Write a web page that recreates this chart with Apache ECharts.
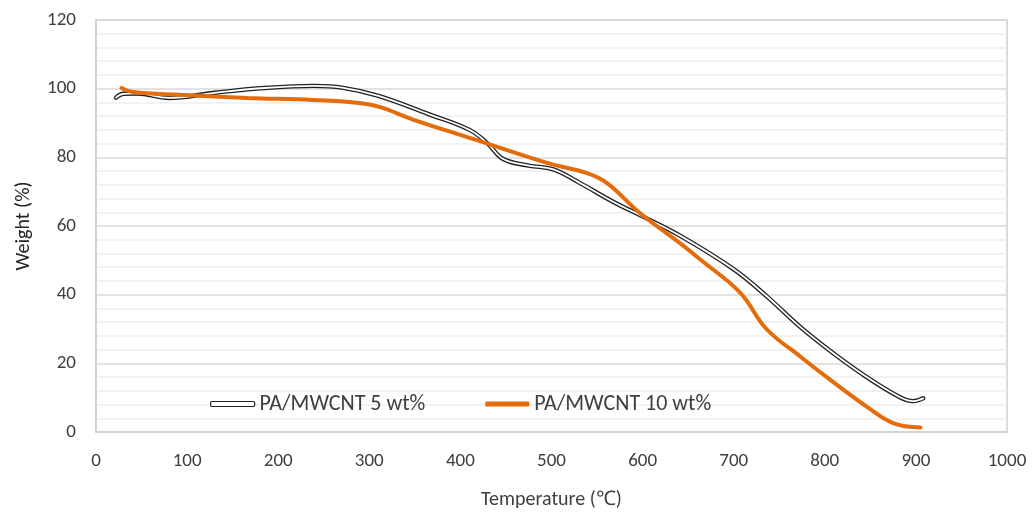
<!DOCTYPE html>
<html>
<head>
<meta charset="utf-8">
<script src="https://cdn.jsdelivr.net/npm/echarts@6/dist/echarts.min.js"></script>
<style>
  html, body { margin: 0; padding: 0; background: #fff; }
  #chart { width: 1035px; height: 512px; }
</style>
</head>
<body>
<div id="chart"></div>
<script>
// values
const temp5 = [22, 30, 45, 80, 130, 185, 240, 270, 310, 365, 410, 430, 447, 475, 502, 530, 568, 600, 641, 699, 736, 773, 809, 846, 882, 897, 908];
const weight5 = [97.4, 98.5, 98.6, 97.3, 98.8, 100.2, 100.8, 100.3, 97.9, 92.6, 88, 84, 79.5, 77.6, 76.5, 72.7, 67, 62.8, 57.2, 47.6, 39.6, 30.6, 23, 16, 10.2, 9, 9.8];

const temp10 = [28, 41, 92, 166, 238, 286, 312, 348, 418, 495, 539, 561, 597, 641, 663, 707, 736, 773, 809, 846, 875, 905];
const weight10 = [100.2, 99, 98.2, 97.3, 96.7, 95.9, 94.6, 91, 85, 78.4, 75.4, 72.5, 63.8, 55, 50.3, 40.6, 30, 22, 14.6, 7.4, 2.6, 1.3];

const name5 = 'PA/MWCNT 5 wt%';
const name10 = 'PA/MWCNT 10 wt%';

const fontMain = 'Carlito, Lato, "Open Sans", sans-serif';

function pairs(xs, ys) {
    let out = [];
    for (let i = 0; i < xs.length; i++) {
        out.push([xs[i], ys[i]]);
    }
    return out;
}

let chart = echarts.init(document.getElementById('chart'));

const option = {
    animation: false,
    backgroundColor: '#fff',
    grid: {
        left: 96,
        right: 28,
        top: 20,
        bottom: 80,
        outerBoundsMode: 'none',
        containLabel: false,
        show: true,
        borderColor: '#cfcfcf',
        borderWidth: 1.5
    },
    legend: {
        left: 205,
        top: 388,
        itemWidth: 44,
        itemHeight: 5,
        itemGap: 60,
        textStyle: { fontFamily: fontMain, fontSize: 22, color: '#404040' },
        data: [
            { name: name5, icon: 'roundRect', itemStyle: { color: '#fff', borderColor: '#222', borderWidth: 1.2 } },
            { name: name10, icon: 'roundRect', itemStyle: { color: '#E46C0A', borderWidth: 0 } }
        ]
    },
    xAxis: {
        type: 'value',
        min: 0,
        max: 1000,
        interval: 100,
        name: 'Temperature (℃)',
        nameLocation: 'middle',
        nameGap: 58,
        nameTextStyle: { fontFamily: fontMain, fontSize: 20, color: '#404040' },
        axisLine: { show: true, lineStyle: { color: '#cfcfcf', width: 1.5 } },
        axisTick: { show: false },
        splitLine: { show: false },
        axisLabel: { fontFamily: fontMain, fontSize: 19, color: '#404040', margin: 20, formatter: v => String(v) }
    },
    yAxis: {
        type: 'value',
        min: 0,
        max: 120,
        interval: 20,
        name: 'Weight (%)',
        nameLocation: 'middle',
        nameGap: 62,
        nameRotate: 90,
        nameTextStyle: { fontFamily: fontMain, fontSize: 20, color: '#262626' },
        axisLine: { show: true, lineStyle: { color: '#cfcfcf', width: 1.5 } },
        axisTick: { show: false },
        axisLabel: { fontFamily: fontMain, fontSize: 19, color: '#404040', margin: 20 },
        splitLine: { show: true, lineStyle: { color: '#d9d9d9', width: 1.5 } },
        minorTick: { show: false, splitNumber: 5 },
        minorSplitLine: { show: true, lineStyle: { color: '#eeeeee', width: 1.5 } }
    },
    series: [
        {
            name: name5,
            type: 'line',
            data: pairs(temp5, weight5),
            smooth: 0.4,
            showSymbol: false,
            symbol: 'none',
            lineStyle: { color: '#222', width: 4.4, cap: 'round' },
            itemStyle: { color: '#222' },
            z: 2
        },
        {
            name: name5 + ' inner',
            type: 'line',
            data: pairs(temp5, weight5),
            smooth: 0.4,
            showSymbol: false,
            symbol: 'none',
            lineStyle: { color: '#fff', width: 1.8, cap: 'round' },
            z: 3
        },
        {
            name: name10,
            type: 'line',
            data: pairs(temp10, weight10),
            smooth: 0.4,
            showSymbol: false,
            symbol: 'none',
            lineStyle: { color: '#E46C0A', width: 4, cap: 'round' },
            itemStyle: { color: '#E46C0A' },
            z: 4
        }
    ]
};

chart.setOption(option);
</script>
</body>
</html>
